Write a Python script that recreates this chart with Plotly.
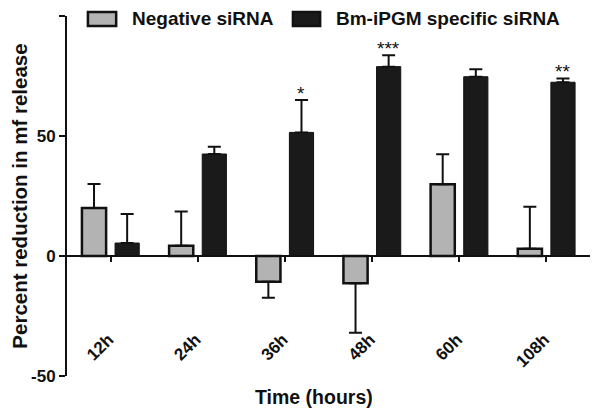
import plotly.graph_objects as go

categories = ["12h", "24h", "36h", "48h", "60h", "108h"]
neg_values = [20, 4.3, -10.7, -11.4, 29.9, 3]
neg_err = [10, 14.2, 6.7, 20.6, 12.5, 17.5]
spec_values = [5.4, 42.5, 51.5, 78.9, 74.7, 72.4]
spec_err = [12.1, 3, 13.5, 4.7, 3.1, 1.6]
stars = ["", "", "*", "***", "", "**"]
y_ticks = [-50, 0, 50, 100]
y_tick_labels = ["-50", "0", "50", "100"]
series_names = ["Negative siRNA", "Bm-iPGM specific siRNA"]
series_colors = ["#b3b3b3", "#1a1a1a"]

FONT = "Liberation Sans, Arial, sans-serif"
INK = "#111111"


def split_err(vals, errs):
    up = [e if v >= 0 else 0 for v, e in zip(vals, errs)]
    down = [e if v < 0 else 0 for v, e in zip(vals, errs)]
    return up, down


fig = go.Figure()
nu, nd = split_err(neg_values, neg_err)
fig.add_trace(go.Bar(
    x=categories, y=neg_values, name=series_names[0], showlegend=False,
    marker=dict(color=series_colors[0], line=dict(color=INK, width=2.5)),
    error_y=dict(type="data", array=nu, arrayminus=nd, symmetric=False,
                 color=INK, thickness=2, width=6.5),
))
su, sd = split_err(spec_values, spec_err)
fig.add_trace(go.Bar(
    x=categories, y=spec_values, name=series_names[1], showlegend=False,
    marker=dict(color=series_colors[1], line=dict(color=INK, width=1)),
    error_y=dict(type="data", array=su, arrayminus=sd, symmetric=False,
                 color=INK, thickness=2, width=6.5),
))

for c, v, e, s in zip(categories, spec_values, spec_err, stars):
    if s:
        fig.add_annotation(x=c, y=v + e, text=s, showarrow=False, xshift=16.5,
                           yanchor="bottom", yshift=-6,
                           font=dict(family=FONT, size=19, color=INK))

# legend (boxes + labels) drawn in paper coordinates
legend_box_x = [(0.040, 0.094), (0.432, 0.484)]
legend_text_x = [0.1205, 0.5105]
for (x0, x1), tx, name, col in zip(legend_box_x, legend_text_x, series_names, series_colors):
    fig.add_shape(type="rect", xref="paper", yref="paper", x0=x0, x1=x1,
                  y0=0.972, y1=1.011, fillcolor=col,
                  line=dict(color=INK, width=2.5))
    fig.add_annotation(x=tx, y=0.992, xref="paper", yref="paper", text=name,
                       showarrow=False, xanchor="left", yanchor="middle",
                       font=dict(family=FONT, size=19, color=INK, weight="bold"))

fig.add_annotation(x=0.472, y=-0.058, xref="paper", yref="paper", text="Time (hours)",
                   showarrow=False, yanchor="middle",
                   font=dict(family=FONT, size=19.5, color=INK, weight="bold"))

fig.update_layout(
    width=592, height=407,
    margin=dict(l=59, r=10, t=8, b=39, autoexpand=False),
    paper_bgcolor="white", plot_bgcolor="white",
    barmode="group", bargap=0.24, bargroupgap=0.27,
    font=dict(family=FONT, color=INK),
    showlegend=False,
    xaxis=dict(
        range=[-0.5, 5.5], anchor="free", position=1 / 3, automargin=False,
        showline=True, linecolor=INK, linewidth=2,
        ticks="outside", ticklen=5, tickwidth=2, tickcolor=INK,
        tickangle=-45, ticklabelstandoff=61, ticklabelshift=-2,
        tickfont=dict(family=FONT, size=17, weight="bold", color=INK),
        showgrid=False, zeroline=False,
    ),
    yaxis=dict(
        range=[-50, 100], tickvals=y_ticks, ticktext=y_tick_labels,
        showline=True, linecolor=INK, automargin=False,
        linewidth=2, ticks="outside", ticklen=6, tickwidth=2, tickcolor=INK,
        tickfont=dict(family=FONT, size=17, weight="bold", color=INK),
        showgrid=False, zeroline=False,
        title=dict(text="Percent reduction in mf release", standoff=4,
                   font=dict(family=FONT, size=20.5, weight="bold", color=INK)),
    ),
)

fig.write_html("out.html")
